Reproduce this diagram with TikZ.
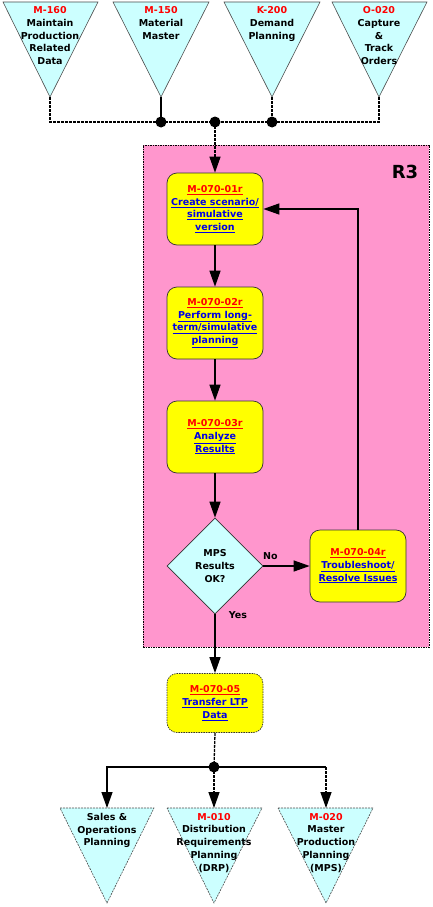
\documentclass[tikz,border=0pt]{standalone}
\usepackage{fontspec}
\setmainfont{DejaVu Sans}
\usepackage{xcolor}
\usepackage{tikz}
\usetikzlibrary{shapes,arrows.meta,positioning,calc}

\definecolor{regionpink}{RGB}{255,150,205}
\definecolor{trifill}{RGB}{204,255,255}
\definecolor{boxyellow}{RGB}{255,255,0}
\definecolor{codered}{RGB}{255,0,0}
\definecolor{linkblue}{RGB}{0,0,230}

\newcommand{\code}[1]{\textcolor{codered}{\underline{#1}}}
\newcommand{\lnk}[1]{\textcolor{linkblue}{\underline{#1}}}

\begin{document}
\begin{tikzpicture}[
    x=1pt, y=-1pt,
    font=\fontsize{9.5}{12.7}\selectfont\bfseries,
    region/.style={rectangle, draw=black, fill=regionpink, line width=0.8pt, dash pattern=on 1.5pt off 1pt, minimum width=286pt, minimum height=502pt, inner sep=0pt},
    stepbox/.style={rectangle, draw=black!80, fill=boxyellow, line width=0.7pt, rounded corners=10pt, align=center, minimum height=72pt, minimum width=96pt, inner sep=1pt},
    decision/.style={diamond, draw=black!80, fill=trifill, line width=0.7pt, aspect=1, minimum size=96pt, inner sep=0pt, align=center},
    tri/.style={draw=black!70, fill=trifill, line width=0.6pt},
    trilabel/.style={align=center, anchor=north, inner sep=1pt},
    dot/.style={circle, fill=black, minimum size=11pt, inner sep=0pt},
    arrow/.style={-{Triangle[length=16pt, width=11pt]}, line width=1.3pt, draw=black},
    flow/.style={line width=1.3pt, draw=black},
    dashflow/.style={line width=1.3pt, draw=black, dash pattern=on 3pt off 1pt}
]
    \useasboundingbox (0,0) rectangle (433,907);

    % upstream triangles
    \draw [tri] (3,2) -- (98,2) -- (50,97) -- cycle;
    \draw [tri] (113,2) -- (209,2) -- (161,97) -- cycle;
    \draw [tri] (224,2) -- (320,2) -- (272,97) -- cycle;
    \draw [tri] (332,2) -- (427,2) -- (379,97) -- cycle;
    \node [trilabel] (m160) at (50,5.5) {\textcolor{codered}{M-160}\\Maintain\\Production\\Related\\Data};
    \node [trilabel] (m150) at (161,5.5) {\textcolor{codered}{M-150}\\Material\\Master};
    \node [trilabel] (k200) at (272,5.5) {\textcolor{codered}{K-200}\\Demand\\Planning};
    \node [trilabel] (o020) at (379,5.5) {\textcolor{codered}{O-020}\\Capture\\\&\\Track\\Orders};
    \coordinate (m160tip) at (50,97);
    \coordinate (m150tip) at (161,97);
    \coordinate (k200tip) at (272,97);
    \coordinate (o020tip) at (379,97);

    % region R3
    \node [region] (r3) at (286,396) {};
    \node [font=\fontsize{18}{20}\selectfont\bfseries] (r3label) at (405,172) {R3};

    % steps
    \node [stepbox] (s1) at (215,209) {\code{M-070-01r}\\\lnk{Create scenario/}\\\lnk{simulative}\\\lnk{version}};
    \node [stepbox] (s2) at (215,323) {\code{M-070-02r}\\\lnk{Perform long-}\\\lnk{term/simulative}\\\lnk{planning}};
    \node [stepbox] (s3) at (215,437) {\code{M-070-03r}\\\lnk{Analyze}\\\lnk{Results}};
    \node [decision] (ok) at (215,566) {MPS\\Results\\OK?};
    \node [stepbox] (s4) at (358,566) {\code{M-070-04r}\\\lnk{Troubleshoot/}\\\lnk{Resolve Issues}};
    \node [stepbox, dash pattern=on 1.5pt off 1pt, minimum height=59pt] (s5) at (215,703) {\code{M-070-05}\\\lnk{Transfer LTP}\\\lnk{Data}};

    % downstream triangles
    \draw [tri, dash pattern=on 2pt off 1pt] (60,808) -- (154,808) -- (107,903) -- cycle;
    \draw [tri, dash pattern=on 2pt off 1pt] (167,808) -- (262,808) -- (214,903) -- cycle;
    \draw [tri, dash pattern=on 2pt off 1pt] (278,808) -- (373,808) -- (326,903) -- cycle;
    \node [trilabel] (sop) at (107,812) {Sales \&\\Operations\\Planning};
    \node [trilabel] (m010) at (214,812) {\textcolor{codered}{M-010}\\Distribution\\Requirements\\Planning\\(DRP)};
    \node [trilabel] (m020) at (326,812) {\textcolor{codered}{M-020}\\Master\\Production\\Planning\\(MPS)};
    \coordinate (soptop) at (107,808);
    \coordinate (m010top) at (214,808);
    \coordinate (m020top) at (326,808);
    \coordinate (m020bend) at (326,767);

    % junctions
    \node [dot] (j1) at (161,122) {};
    \node [dot] (j2) at (215,122) {};
    \node [dot] (j3) at (272,122) {};
    \node [dot] (j4) at (214,767) {};

    % upstream bus
    \draw [dashflow] (m160tip) |- (j1.center);
    \draw [flow] (m150tip) -- (j1.center);
    \draw [dashflow] (k200tip) -- (j3.center);
    \draw [dashflow] (o020tip) |- (j3.center);
    \draw [dashflow] (j1.center) -- (j3.center);
    \draw [arrow, dash pattern=on 3pt off 1pt] (j2.center) -- (s1.north);

    % flow inside R3
    \draw [arrow] (s1) -- (s2);
    \draw [arrow] (s2) -- (s3);
    \draw [arrow] (s3) -- (ok);
    \draw [arrow] (ok) -- node [above, pos=0.15, yshift=2pt] (nolabel) {No} (s4);
    \draw [arrow] (s4.north) |- (s1.east);
    \draw [arrow] (ok.south) -- node [right, pos=0.0, xshift=10pt, yshift=-1pt] (yeslabel) {Yes} (s5.north);

    % downstream bus
    \draw [dashflow] (s5.south) -- (j4.center);
    \draw [arrow] (j4.center) -| (soptop);
    \draw [arrow, dash pattern=on 3pt off 1pt] (j4.center) -- (m010top);
    \draw [flow] (j4.center) -- (m020bend);
    \draw [arrow, dash pattern=on 3pt off 1pt] (m020bend) -- (m020top);
\end{tikzpicture}
\end{document}
